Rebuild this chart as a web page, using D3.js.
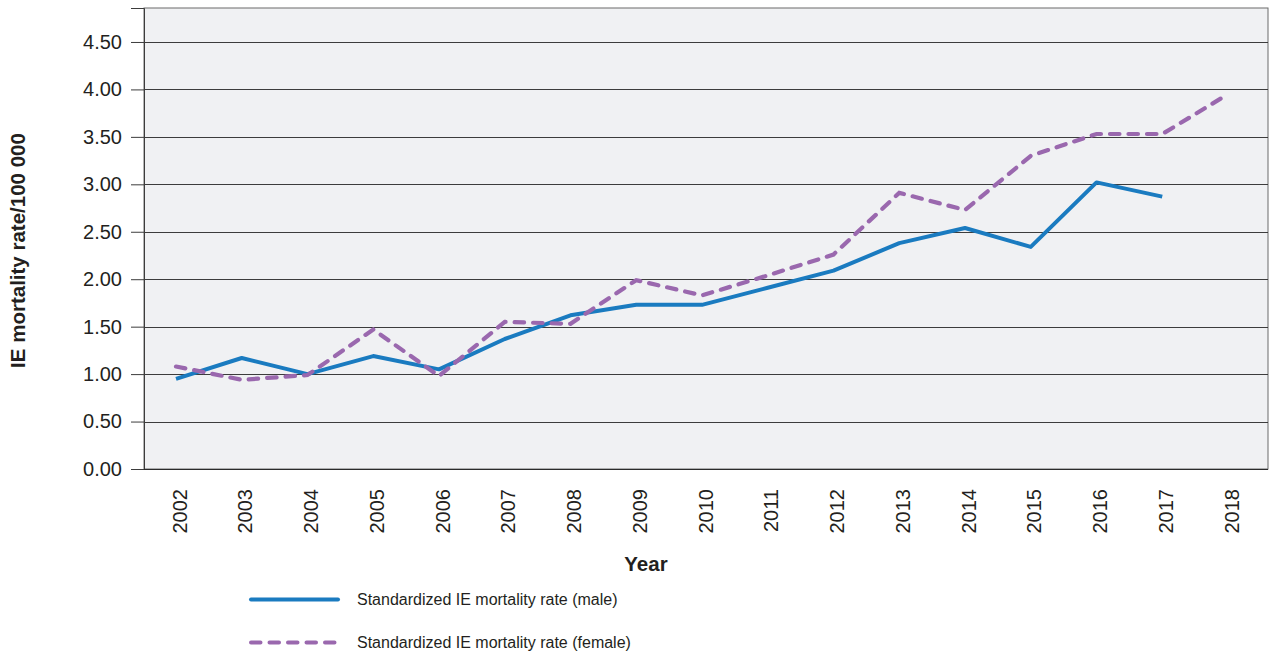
<!DOCTYPE html>
<html>
<head>
<meta charset="utf-8">
<script src="https://cdn.jsdelivr.net/npm/d3@7/dist/d3.min.js"></script>
<style>
  html, body { margin: 0; padding: 0; background: #ffffff; }
  svg { display: block; font-family: "Liberation Sans", Arial, sans-serif; }
</style>
</head>
<body>
<svg id="chart" width="1276" height="659"></svg>
<script>
const years = ["2002","2003","2004","2005","2006","2007","2008","2009","2010","2011","2012","2013","2014","2015","2016","2017","2018"];
const maleValues = [0.95, 1.17, 1.00, 1.19, 1.05, 1.37, 1.62, 1.73, 1.73, 1.91, 2.09, 2.38, 2.54, 2.34, 3.02, 2.87, null];
const femaleValues = [1.08, 0.94, 0.99, 1.47, 0.98, 1.55, 1.53, 1.99, 1.83, 2.04, 2.26, 2.91, 2.73, 3.30, 3.53, 3.53, 3.95];
const yTicks = [0, 0.5, 1.0, 1.5, 2.0, 2.5, 3.0, 3.5, 4.0, 4.5];
const seriesNames = ["Standardized IE mortality rate (male)", "Standardized IE mortality rate (female)"];
const yTitle = "IE mortality rate/100 000";
const xTitle = "Year";

const svg = d3.select("#chart");
const plot = { left: 144, right: 1268, top: 8, bottom: 469 };

const x = d3.scalePoint().domain(years).range([176, 1228]);
const y = d3.scaleLinear().domain([0, 4.858]).range([plot.bottom, plot.top]);

// plot background
svg.append("rect")
  .attr("x", plot.left).attr("y", plot.top)
  .attr("width", plot.right - plot.left).attr("height", plot.bottom - plot.top)
  .attr("fill", "#f0f1f3")
  .attr("stroke", "#6b6b6b").attr("stroke-width", 1);

// gridlines
svg.append("g").selectAll("line").data(yTicks.filter(d => d > 0)).join("line")
  .attr("x1", plot.left).attr("x2", plot.right)
  .attr("y1", d => Math.round(y(d)) + 0.5).attr("y2", d => Math.round(y(d)) + 0.5)
  .attr("stroke", "#3c3c3c").attr("stroke-width", 1);

// y axis
const yAxis = d3.axisLeft(y).tickValues(yTicks).tickFormat(d3.format(".2f")).tickSize(13).tickPadding(9);
const gy = svg.append("g").attr("transform", `translate(${plot.left},0)`).call(yAxis);
gy.select(".domain").attr("stroke", "#3c3c3c");
gy.selectAll(".tick line").attr("stroke", "#3c3c3c");
gy.selectAll(".tick text").attr("font-size", 20).attr("fill", "#231f20")
  .attr("font-family", "Liberation Sans, Arial, sans-serif");

// bottom axis line
svg.append("line")
  .attr("x1", plot.left).attr("x2", plot.right)
  .attr("y1", plot.bottom + 0.5).attr("y2", plot.bottom + 0.5)
  .attr("stroke", "#2b2b2b").attr("stroke-width", 1.2);

// x axis labels
const xAxis = d3.axisBottom(x).tickSize(0).tickPadding(0);
const gx = svg.append("g").attr("transform", `translate(0,${plot.bottom})`).call(xAxis);
gx.select(".domain").remove();
gx.selectAll(".tick text")
  .attr("font-size", 20).attr("fill", "#231f20")
  .attr("font-family", "Liberation Sans, Arial, sans-serif")
  .attr("text-anchor", "end")
  .attr("transform", "translate(3,20) rotate(-90)")
  .attr("x", 0).attr("y", 0).attr("dy", "0.36em");

// lines
const line = d3.line()
  .defined(d => d != null)
  .x((d, i) => x(years[i]))
  .y(d => y(d));

svg.append("path")
  .datum(maleValues)
  .attr("fill", "none")
  .attr("stroke", "#1a7bc0")
  .attr("stroke-width", 4)
  .attr("stroke-linejoin", "round")
  .attr("d", line);

svg.append("path")
  .datum(femaleValues)
  .attr("fill", "none")
  .attr("stroke", "#9a68ae")
  .attr("stroke-width", 4.2)
  .attr("stroke-linecap", "round")
  .attr("stroke-dasharray", "9.5 9")
  .attr("d", line);

// axis titles
svg.append("text")
  .attr("transform", "translate(25,250.5) rotate(-90)")
  .attr("text-anchor", "middle")
  .attr("font-size", 20.5).attr("font-weight", "bold").attr("fill", "#231f20")
  .text(yTitle);

svg.append("text")
  .attr("x", 646).attr("y", 571)
  .attr("text-anchor", "middle")
  .attr("font-size", 20.5).attr("font-weight", "bold").attr("fill", "#231f20")
  .text(xTitle);

// legend
const legend = svg.append("g");
const legendY = [599.5, 642.5];
const legendStyles = [
  { color: "#1a7bc0", dash: null, cap: "round", x2: 338 },
  { color: "#9a68ae", dash: "9.5 9", cap: "round", x2: 338 }
];
seriesNames.forEach((name, i) => {
  const s = legendStyles[i];
  const ln = legend.append("line")
    .attr("x1", 251).attr("x2", s.x2)
    .attr("y1", legendY[i]).attr("y2", legendY[i])
    .attr("stroke", s.color).attr("stroke-width", 4)
    .attr("stroke-linecap", s.cap);
  if (s.dash) ln.attr("stroke-dasharray", s.dash);
  legend.append("text")
    .attr("x", 357).attr("y", legendY[i] + 5.7)
    .attr("font-size", 16).attr("fill", "#231f20")
    .text(name);
});
</script>
</body>
</html>
